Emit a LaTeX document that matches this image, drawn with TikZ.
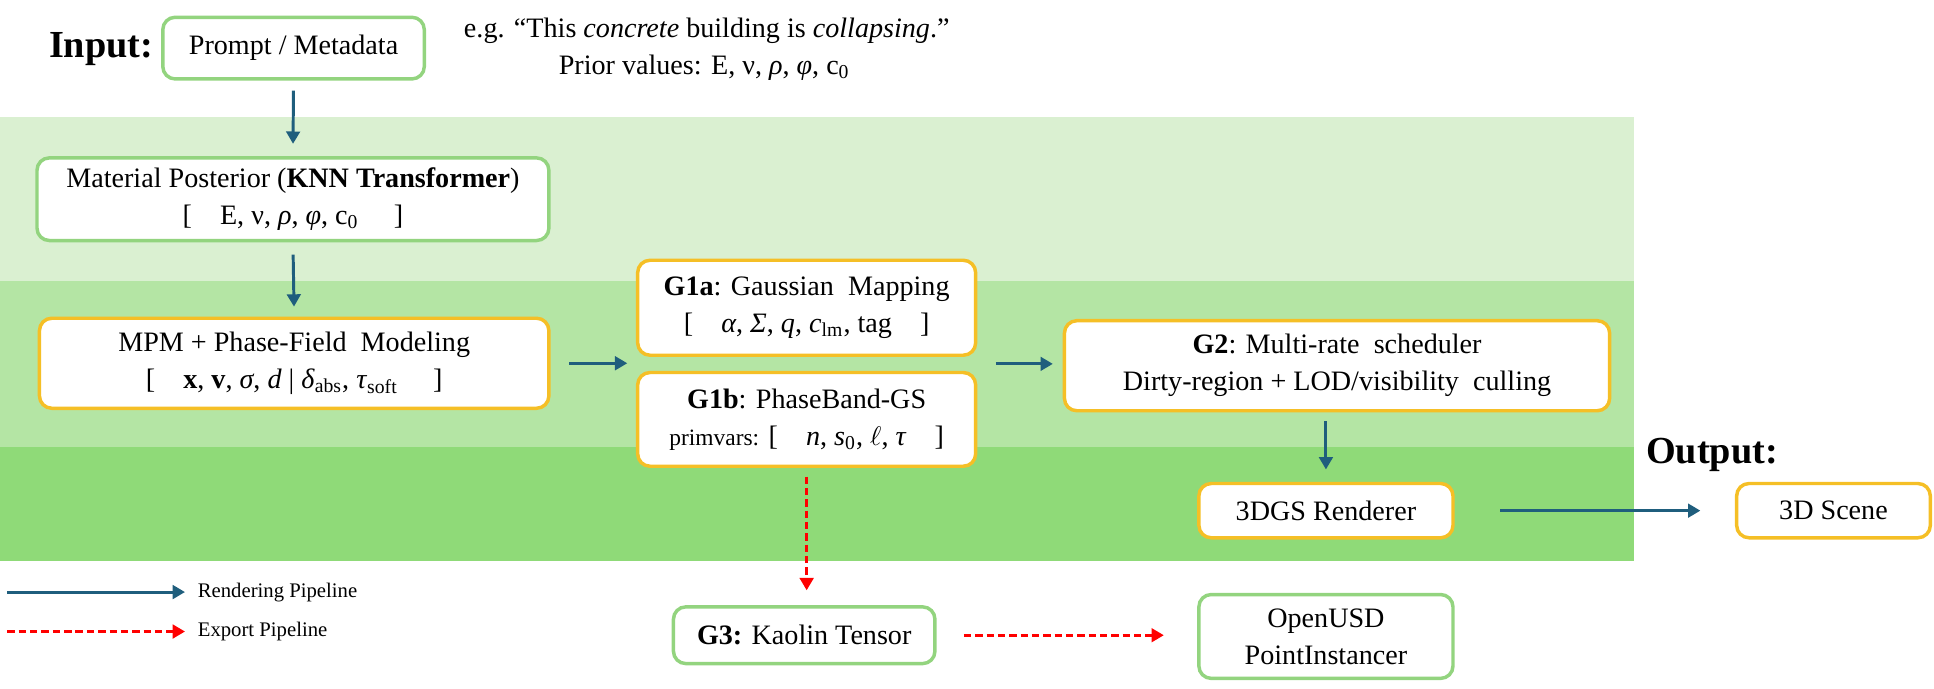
\documentclass[tikz,border=0pt]{standalone}
\usepackage{fontspec}
\setmainfont{Liberation Serif}
\usetikzlibrary{arrows.meta,calc}
\definecolor{bandA}{HTML}{DAF0D1}
\definecolor{bandB}{HTML}{B4E5A4}
\definecolor{bandC}{HTML}{8FDA78}
\definecolor{boxgreen}{HTML}{93D47F}
\definecolor{boxgold}{HTML}{F5BF26}
\definecolor{pipeblue}{HTML}{1F5E7D}
\definecolor{exportred}{HTML}{FF0000}
\tikzset{
  basebox/.style={rectangle, rounded corners=5pt, fill=white, line width=1.4pt, align=center, inner sep=0pt, font=\fontsize{11.4}{15}\selectfont},
  gbox/.style={basebox, draw=boxgreen},
  obox/.style={basebox, draw=boxgold},
  renderarrow/.style={draw=pipeblue, line width=1.2pt, -{Triangle[length=5pt,width=5.5pt]}},
  exportarrow/.style={draw=exportred, line width=1.2pt, dash pattern=on 3pt off 1.6pt, -{Triangle[length=5pt,width=5.5pt]}},
  biglabel/.style={font=\fontsize{15.5}{18}\selectfont\bfseries, inner sep=0pt},
  plaintext/.style={font=\fontsize{11.4}{15}\selectfont, inner sep=0pt, align=center},
  legendtext/.style={font=\fontsize{8.4}{10}\selectfont, anchor=west, inner sep=0pt},
}
\begin{document}
\begin{tikzpicture}[x=0.5pt,y=-0.5pt]
\useasboundingbox (0,0) rectangle (1568,558.6);
% background bands
\fill[bandA] (0,95) rectangle (1325,228);
\fill[bandB] (0,228) rectangle (1325,362);
\fill[bandC] (0,362) rectangle (1325,455);

% labels
\node[biglabel] (inlabel) at (82,40) {Input:};
\node[biglabel] (outlabel) at (1388,369) {Output:};
\node[plaintext] (eg) at (573,25) {e.g. “This \textit{concrete} building is \textit{collapsing}.”};
\node[plaintext] (prior) at (571,55) {Prior values: E, ν, \textit{ρ}, \textit{φ}, c\textsubscript{0}};

% boxes
\node[gbox, minimum width=106pt, minimum height=25pt] (prompt) at (238,39) {Prompt / Metadata};
\node[gbox, minimum width=207.5pt, minimum height=33.5pt] (material) at (237.5,161.5)
  {Material Posterior (\textbf{KNN Transformer})\\{}[\quad E, ν, \textit{ρ}, \textit{φ}, c\textsubscript{0}\quad\ ]};
\node[obox, minimum width=206.5pt, minimum height=36.5pt] (mpm) at (238.5,294.5)
  {MPM + Phase-Field\ \ Modeling\\{}[\quad \textbf{x}, \textbf{v}, \textit{σ}, \textit{d} | \textit{δ}\textsubscript{abs}, \textit{τ}\textsubscript{soft}\quad\ ]};
\node[obox, minimum width=137pt, minimum height=38.5pt] (g1a) at (654,249.5)
  {\textbf{G1a}: Gaussian\ \ Mapping\\{}[\quad \textit{α}, \textit{Σ}, \textit{q}, \textit{c}\textsubscript{lm}, tag\quad ]};
\node[obox, minimum width=137pt, minimum height=38pt] (g1b) at (654,340)
  {\textbf{G1b}: PhaseBand-GS\\{\fontsize{9.5}{15}\selectfont primvars:} [\quad \textit{n}, \textit{s}\textsubscript{0}, $\ell$, \textit{τ}\quad ]};
\node[obox, minimum width=221pt, minimum height=36.5pt] (g2) at (1084,296.5)
  {\textbf{G2}: Multi-rate\ \ scheduler\\Dirty-region + LOD/visibility\ \ culling};
\node[obox, minimum width=103pt, minimum height=22pt] (render) at (1075,414) {3DGS Renderer};
\node[obox, minimum width=78.5pt, minimum height=22pt] (scene) at (1486.5,414) {3D Scene};
\node[gbox, minimum width=106pt, minimum height=23pt] (g3) at (652,515) {\textbf{G3:} Kaolin Tensor};
\node[gbox, minimum width=103pt, minimum height=34pt] (usd) at (1075,516) {OpenUSD\\PointInstancer};

% helper coordinates
\coordinate (g1w) at ($(g1a.south west)!0.5!(g1b.north west)$);
\coordinate (g1e) at ($(g1a.south east)!0.5!(g1b.north east)$);

% rendering pipeline
\draw[renderarrow, shorten <=4pt, shorten >=5pt] (prompt.south) -- (material.north);
\draw[renderarrow, shorten <=5pt, shorten >=4pt] (material.south) -- (mpm.north);
\draw[renderarrow, shorten <=7.5pt, shorten >=3.5pt] (mpm.east) -- (mpm.east -| g1w);
\draw[renderarrow, shorten <=7.5pt, shorten >=4pt] (g1e) -- (g1e -| g2.west);
\draw[renderarrow, shorten <=3.5pt, shorten >=5pt] (g2.south -| render.north) -- (render.north);
\draw[renderarrow, shorten <=18.5pt, shorten >=14pt] (render.east) -- (scene.west);

% export pipeline
\draw[exportarrow, shorten <=3.5pt, shorten >=6pt] (g1b.south) -- (g3.north -| g1b.south);
\draw[exportarrow, shorten <=11pt, shorten >=13.5pt] (g3.east) -- (g3.east -| usd.west);

% legend
\coordinate (lgA0) at (6,480);
\coordinate (lgA1) at (150,480);
\coordinate (lgB0) at (6,512);
\coordinate (lgB1) at (150,512);
\draw[renderarrow] (lgA0) -- (lgA1);
\draw[exportarrow] (lgB0) -- (lgB1);
\node[legendtext] (lgAt) at (160,480) {Rendering Pipeline};
\node[legendtext] (lgBt) at (160,512) {Export Pipeline};
\end{tikzpicture}
\end{document}
